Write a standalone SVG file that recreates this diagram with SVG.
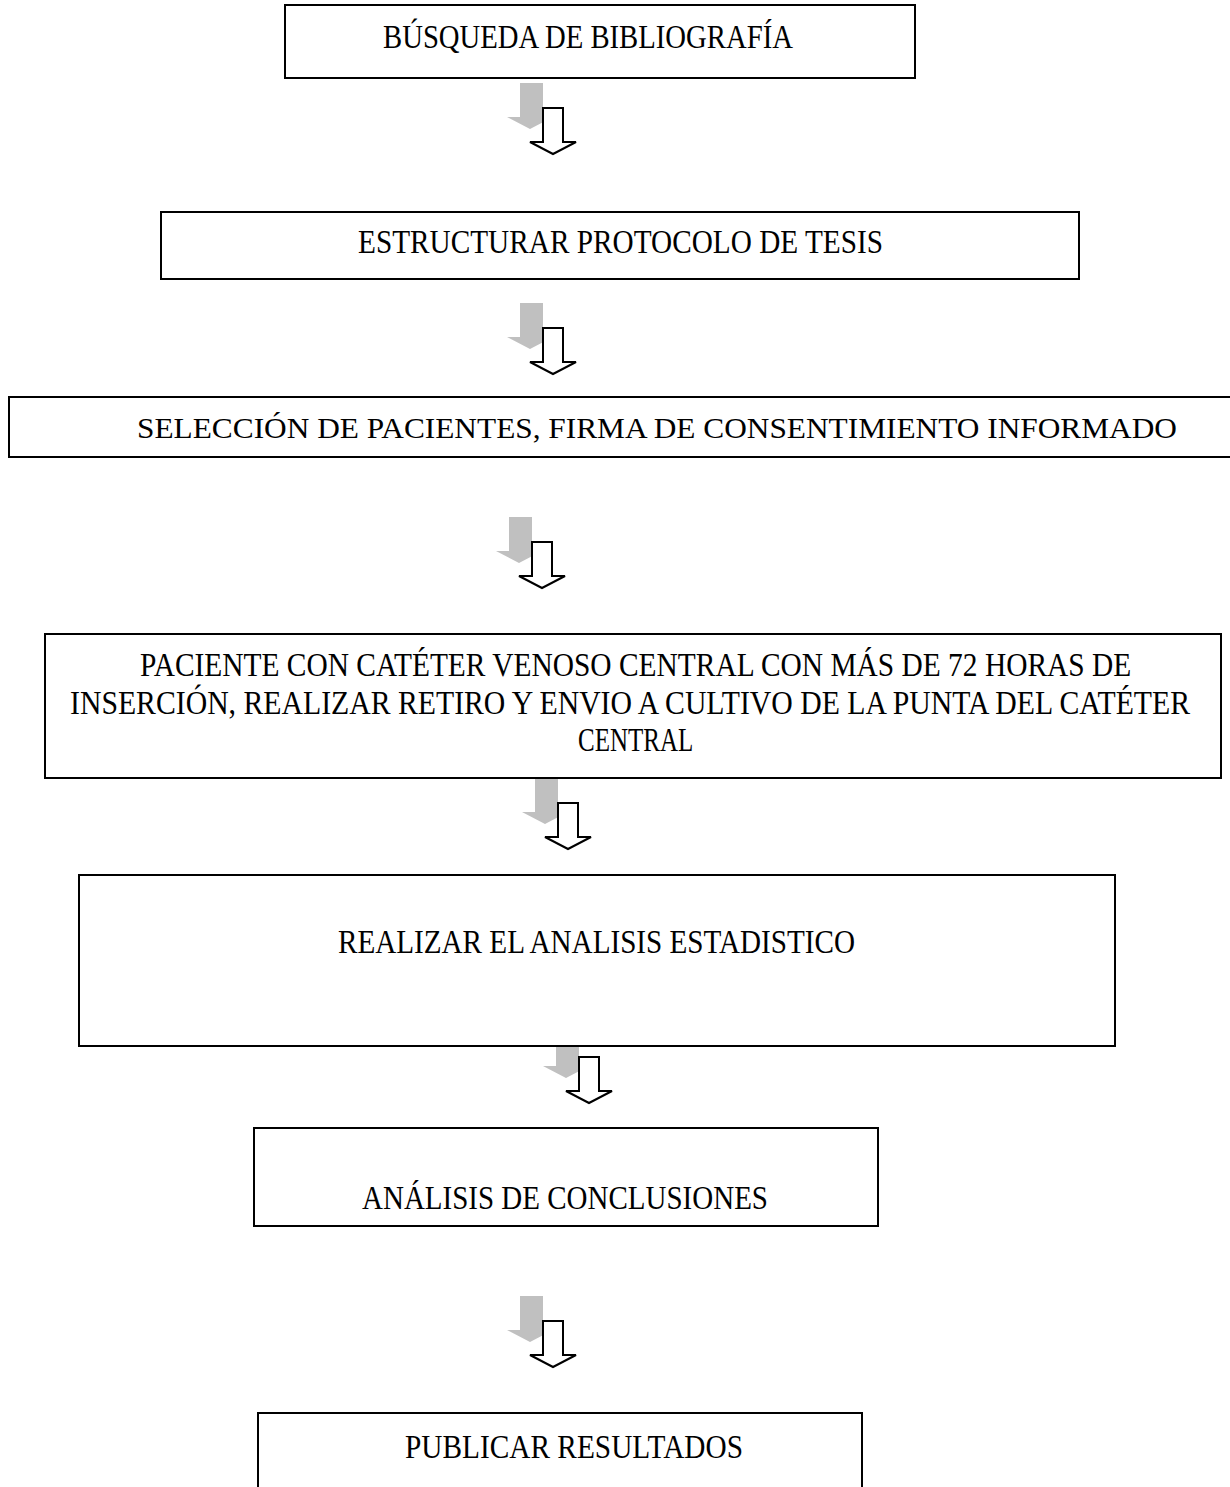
<svg xmlns="http://www.w3.org/2000/svg" xmlns:xlink="http://www.w3.org/1999/xlink" width="1230" height="1487" viewBox="0 0 1230 1487">
<style>
.box{fill:#fff;stroke:#000;stroke-width:2}
.t{font-family:"Liberation Serif","Times New Roman",serif;font-size:34px;fill:#000}
.tt{font-family:"Liberation Serif","Times New Roman",serif;font-size:30px;fill:#000}
.shadow{fill:#c0c0c0}
.arrow{fill:#fff;stroke:#000;stroke-width:2;stroke-linejoin:miter}
</style>
<defs>
<g id="arr">
<path class="shadow" d="M-23,-25 H0 V9 H10 L-13,21 L-36,9 H-23 Z"/>
<path class="arrow" d="M0,0 H20 V34 H33 L10,46 L-13,34 H0 Z"/>
</g>
</defs>
<rect width="1230" height="1487" fill="#fff"/>
<g id="connectors">
<use xlink:href="#arr" href="#arr" x="543" y="108"/>
<use xlink:href="#arr" href="#arr" x="543" y="328"/>
<use xlink:href="#arr" href="#arr" x="532" y="542"/>
<use xlink:href="#arr" href="#arr" x="558" y="803"/>
<use xlink:href="#arr" href="#arr" x="579" y="1057"/>
<use xlink:href="#arr" href="#arr" x="543" y="1321"/>
</g>
<g id="n1">
<rect class="box" x="285" y="5" width="630" height="73"/>
<text class="t" x="383" y="48" textLength="410" lengthAdjust="spacingAndGlyphs">BÚSQUEDA DE BIBLIOGRAFÍA</text>
</g>
<g id="n2">
<rect class="box" x="161" y="212" width="918" height="67"/>
<text class="t" x="358" y="253" textLength="525" lengthAdjust="spacingAndGlyphs">ESTRUCTURAR PROTOCOLO DE TESIS</text>
</g>
<g id="n3">
<rect class="box" x="9" y="397" width="1230" height="60"/>
<text class="tt" x="137" y="438" textLength="1040" lengthAdjust="spacingAndGlyphs">SELECCIÓN DE PACIENTES, FIRMA DE CONSENTIMIENTO INFORMADO</text>
</g>
<g id="n4">
<rect class="box" x="45" y="634" width="1176" height="144"/>
<g transform="scale(0.8,1)">
<text class="t" x="175" y="676" textLength="1239" lengthAdjust="spacingAndGlyphs">PACIENTE CON CATÉTER VENOSO CENTRAL CON MÁS DE 72 HORAS DE</text>
<text class="t" x="87.5" y="714" textLength="1400" lengthAdjust="spacingAndGlyphs">INSERCIÓN, REALIZAR RETIRO Y ENVIO A CULTIVO DE LA PUNTA DEL CATÉTER</text>
<text class="t" x="722.5" y="751" textLength="144" lengthAdjust="spacingAndGlyphs">CENTRAL</text>
</g>
</g>
<g id="n5">
<rect class="box" x="79" y="875" width="1036" height="171"/>
<text class="t" x="338" y="953" textLength="517" lengthAdjust="spacingAndGlyphs">REALIZAR EL ANALISIS ESTADISTICO</text>
</g>
<g id="n6">
<rect class="box" x="254" y="1128" width="624" height="98"/>
<text class="t" x="362" y="1209" textLength="406" lengthAdjust="spacingAndGlyphs">ANÁLISIS DE CONCLUSIONES</text>
</g>
<g id="n7">
<rect class="box" x="258" y="1413" width="604" height="90"/>
<text class="t" x="405" y="1458" textLength="338" lengthAdjust="spacingAndGlyphs">PUBLICAR RESULTADOS</text>
</g>
</svg>
